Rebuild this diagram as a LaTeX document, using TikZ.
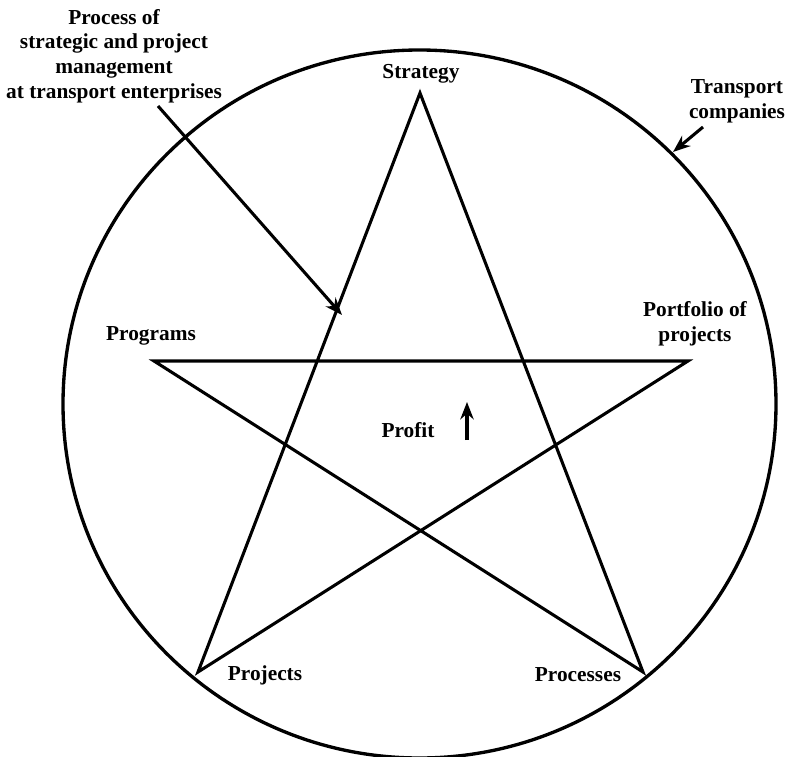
\documentclass[tikz,border=0pt]{standalone}
\usepackage{fontspec}
\setmainfont{Liberation Serif}
\usetikzlibrary{arrows.meta}
\begin{document}
\begin{tikzpicture}[x=0.75pt,y=-0.75pt,
  lbl/.style={font=\bfseries\fontsize{16}{18.5}\selectfont,align=center,inner sep=0pt},
  edge/.style={line width=2.3pt,line join=miter},
  ptr/.style={line width=2.3pt,-{Stealth[length=13pt,width=10pt]}}]
\useasboundingbox (0,0) rectangle (790,757);
\draw[line width=2.5pt] (419.5,404) ellipse [x radius=356.5, y radius=354];
% star vertices
\coordinate (S) at (420,93);
\coordinate (Pf) at (688,361);
\coordinate (Pc) at (643,672);
\coordinate (Pj) at (198,672);
\coordinate (Pg) at (154,361);
\draw[edge] (S) -- (Pj) -- (Pf) -- (Pg) -- (Pc) -- cycle;
% labels
\node[lbl] (lS) at (421,74) {Strategy};
\node[lbl] (lPg) at (151,336) {Programs};
\node[lbl] (lPf) at (695,324) {Portfolio of\\projects};
\node[lbl] (lPj) at (265,675) {Projects};
\node[lbl] (lPc) at (578,675) {Processes};
\node[lbl] (lPr) at (408,430) {Profit};
\node[lbl] (lProc) at (114,56) {Process of\\strategic and project\\management\\at transport enterprises};
\node[lbl] (lTc) at (737,101) {Transport\\companies};
% arrows
\coordinate (a1s) at (158,106);
\coordinate (a1e) at (342,315);
\draw[ptr] (a1s) -- (a1e);
\coordinate (a2s) at (703,127);
\coordinate (a2e) at (673,152);
\draw[ptr] (a2s) -- (a2e);
\coordinate (a3s) at (467,440);
\coordinate (a3e) at (467,402);
\draw[ptr] (a3s) -- (a3e);
\end{tikzpicture}
\end{document}
